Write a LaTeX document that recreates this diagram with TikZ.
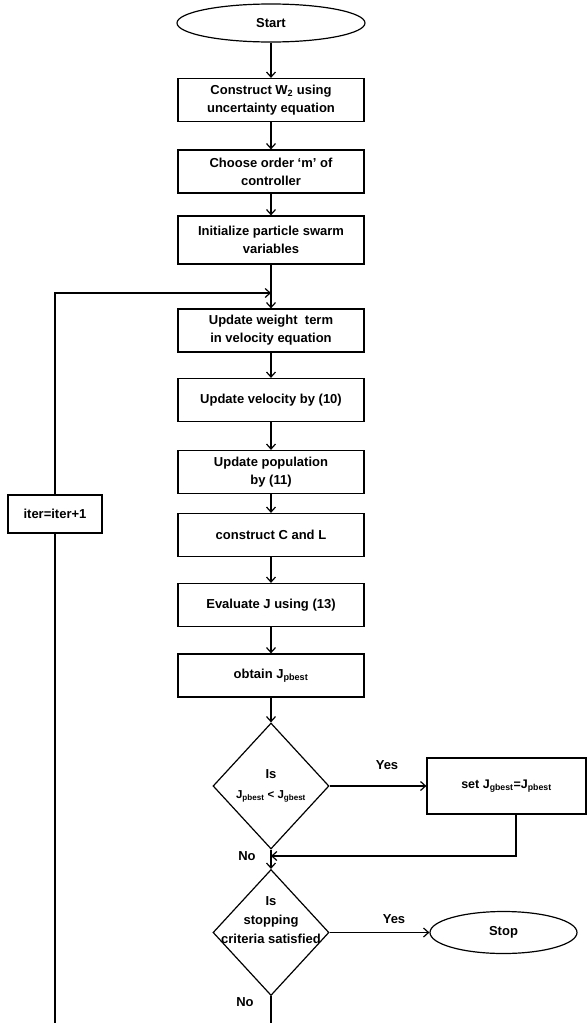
\documentclass[tikz,border=0pt]{standalone}
\usepackage{fontspec}
\setmainfont{Liberation Sans}
\usetikzlibrary{shapes.geometric,arrows.meta}
\begin{document}
\begin{tikzpicture}[x=1pt,y=-1pt,
  every node/.style={font=\fontsize{13}{18}\selectfont\bfseries},
  box/.style={draw,line width=1.2pt,rectangle,minimum width=186pt,minimum height=43pt,inner sep=0pt,align=center},
  term/.style={draw,line width=1.2pt,ellipse,inner sep=0pt},
  decision/.style={draw,line width=1.2pt,diamond,inner sep=0pt,minimum width=116pt,minimum height=126pt},
  flow/.style={line width=1.2pt,-{Straight Barb[length=5pt,width=9pt]}},
  wire/.style={line width=1.2pt}]
\useasboundingbox (0,0) rectangle (587,1023);
% main column
\node[term,minimum width=188pt,minimum height=38pt] (start) at (271,23) {Start};
\node[box] (w2) at (271,100) {Construct W\textsubscript{2} using\\uncertainty equation};
\node[box] (order) at (271,171.5) {Choose order ‘m’ of\\controller};
\node[box,minimum height=48pt] (init) at (271,240) {Initialize particle swarm\\variables};
\node[box] (weight) at (271,330.5) {Update weight\ \ term\\in velocity equation};
\node[box] (vel) at (271,400) {Update velocity by (10)};
\node[box] (pop) at (271,472) {Update population\\by (11)};
\node[box] (cl) at (271,535) {construct C and L};
\node[box] (evalJ) at (271,605) {Evaluate J using (13)};
\node[box] (pbest) at (271,675.5) {obtain J\textsubscript{pbest}};
% decisions
\node[decision] (cmp) at (271,786) {};
\node[align=center] (cmptxt) at (271,786) {Is\\[2pt]{\fontsize{11.5}{13}\selectfont J\textsubscript{pbest} < J\textsubscript{gbest}}};
\node[box,minimum width=159pt,minimum height=56pt,font=\fontsize{12.5}{14}\selectfont\bfseries] (gset) at (506.5,786) {set J\textsubscript{gbest}=J\textsubscript{pbest}};
\node[decision] (stopq) at (271,932.5) {};
\node[align=center,font=\fontsize{13}{19}\selectfont\bfseries] (stoptxt) at (271,920) {Is\\stopping\\criteria satisfied};
\node[term,minimum width=147pt,minimum height=42pt] (stop) at (503.5,932.5) {Stop};
\node[box,minimum width=94pt,minimum height=38pt] (iter) at (55,514) {iter=iter+1};
% labels
\node (yes1) at (387,765) {Yes};
\node (no1) at (247,856) {No};
\node (yes2) at (394,919) {Yes};
\node (no2) at (245,1002) {No};
\coordinate (loop) at (271,293);
\coordinate (merge) at (271,856);
\coordinate (endR) at (271,1023);
\coordinate (endL) at (55,1023);
% connectors
\draw[flow] (start) -- (w2);
\draw[flow] (w2) -- (order);
\draw[flow] (order) -- (init);
\draw[flow] (init) -- (weight);
\draw[flow] (iter.north) |- (loop);
\draw[flow] (weight) -- (vel);
\draw[flow] (vel) -- (pop);
\draw[flow] (pop) -- (cl);
\draw[flow] (cl) -- (evalJ);
\draw[flow] (evalJ) -- (pbest);
\draw[flow] (pbest) -- (cmp);
\draw[flow] (cmp) -- (gset);
\draw[flow] ([xshift=9.5pt]gset.south) |- (merge);
\draw[wire] (cmp.south) -- (merge);
\draw[flow] (merge) -- (stopq.north);
\draw[flow] (stopq) -- (stop);
\draw[wire] (stopq.south) -- (endR);
\draw[wire] (endL) -- (iter.south);
\end{tikzpicture}
\end{document}
